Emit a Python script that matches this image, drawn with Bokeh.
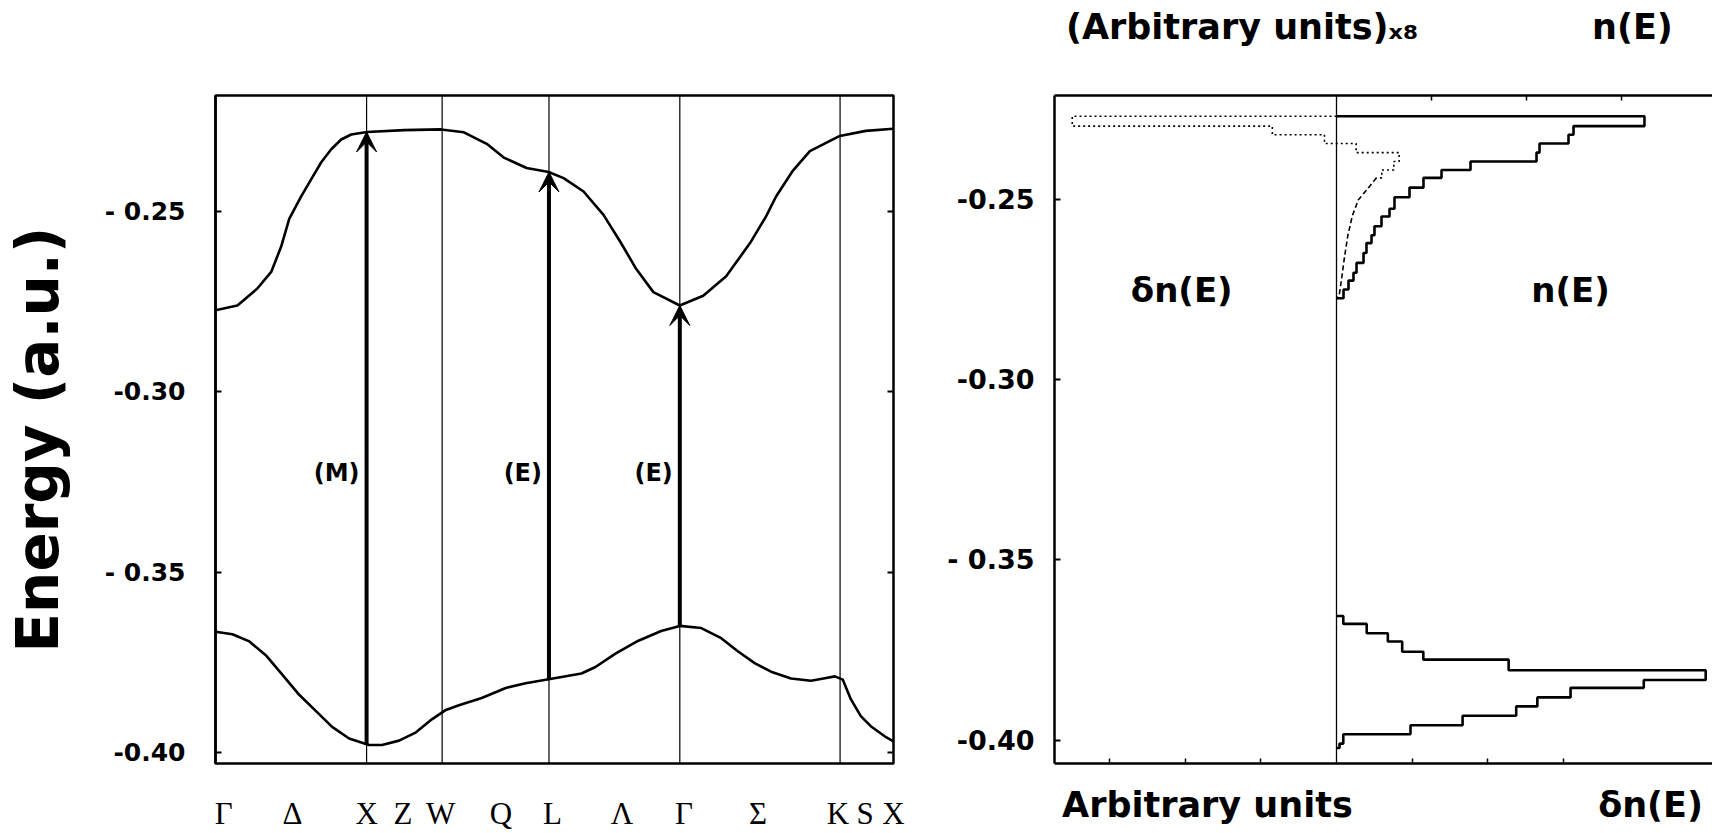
from bokeh.plotting import figure
from bokeh.models import (Range1d, LinearAxis, FixedTicker, Span, Arrow, VeeHead,
                          ColumnDataSource, LabelSet, Label)
from bokeh.layouts import row
from bokeh.core.properties import value
from bokeh.embed import file_html
from bokeh.resources import INLINE

# ---------------- band structure (left panel) ----------------
sym_k = [0.0, 1.0, 1.5, 2.2071, 3.0731, 4.1338, 4.4874]   # Γ X W L Γ K X

upper_k = [0.0, 0.145, 0.277, 0.370, 0.436, 0.488, 0.568, 0.634, 0.700, 0.766, 0.832, 0.898,
           1.003, 1.248, 1.492, 1.644, 1.795, 1.908, 2.059, 2.205, 2.304, 2.436, 2.568, 2.680,
           2.785, 2.898, 3.073, 3.228, 3.380, 3.538, 3.644, 3.710, 3.822, 3.934, 4.132, 4.304, 4.487]
upper_E = [-0.2774, -0.2761, -0.2714, -0.2667, -0.2596, -0.2521, -0.2458, -0.2411, -0.2364,
           -0.2328, -0.2301, -0.2287, -0.2280, -0.2275, -0.2273, -0.2281, -0.2313, -0.2351,
           -0.2380, -0.2391, -0.2408, -0.2445, -0.2510, -0.2585, -0.2660, -0.2724, -0.2761,
           -0.2734, -0.2680, -0.2588, -0.2514, -0.2459, -0.2387, -0.2333, -0.2291, -0.2277, -0.2271]

lower_k = [0.0, 0.112, 0.224, 0.337, 0.442, 0.554, 0.667, 0.772, 0.884, 1.016, 1.102, 1.215,
           1.327, 1.432, 1.525, 1.611, 1.762, 1.921, 2.053, 2.205, 2.422, 2.515, 2.647, 2.799,
           2.950, 3.073, 3.215, 3.347, 3.459, 3.571, 3.677, 3.809, 3.941, 4.033, 4.099, 4.152,
           4.205, 4.271, 4.337, 4.429, 4.487]
lower_E = [-0.3665, -0.3672, -0.3692, -0.3732, -0.3784, -0.3840, -0.3886, -0.3929, -0.3961,
           -0.3979, -0.3979, -0.3967, -0.3944, -0.3908, -0.3882, -0.3869, -0.3849, -0.3821,
           -0.3808, -0.3797, -0.3781, -0.3763, -0.3726, -0.3690, -0.3663, -0.3649, -0.3655,
           -0.3683, -0.3720, -0.3753, -0.3776, -0.3795, -0.3801, -0.3794, -0.3789, -0.3798,
           -0.3852, -0.3899, -0.3927, -0.3955, -0.3969]

trans_k = [1.0, 2.2071, 3.0731]
trans_from = [-0.3978, -0.3797, -0.3649]
trans_to = [-0.2280, -0.2391, -0.2761]
trans_text = ["(M)", "(E)", "(E)"]

path_labels = ["Γ", "Δ", "X", "Z", "W", "Q", "L", "Λ", "Γ", "Σ", "K", "S", "X"]
path_label_k = [0.055, 0.51, 1.0, 1.24, 1.49, 1.89, 2.23, 2.69, 3.10, 3.59, 4.12, 4.30, 4.487]

E_ticks = [-0.25, -0.30, -0.35, -0.40]
left_tick_text = ["- 0.25", "-0.30", "- 0.35", "-0.40"]
right_tick_text = ["-0.25", "-0.30", "- 0.35", "-0.40"]

# ---------------- density of states (right panel) ----------------
nE_up_edges = [-0.22680, -0.22953, -0.23191, -0.23437, -0.23688, -0.23934, -0.24171, -0.24390,
               -0.24660, -0.24928, -0.25246, -0.25464, -0.25735, -0.25983, -0.26201, -0.26478,
               -0.26751, -0.27025, -0.27243, -0.27489, -0.27734]
nE_up_vals = [4.079, 3.139, 3.073, 2.689, 2.649, 1.775, 1.391, 1.152, 0.967, 0.768, 0.702,
              0.596, 0.503, 0.464, 0.397, 0.358, 0.265, 0.225, 0.159, 0.093]

dn_edges = nE_up_edges[:8]
dn_vals = [-3.50, -0.85, -0.16, 0.26, 0.83, 0.76, 0.60]
dn_tail_x = [0.53, 0.40, 0.29, 0.21, 0.15, 0.105, 0.07, 0.04, 0.0]
dn_tail_E = [-0.24390, -0.24724, -0.25000, -0.25442, -0.25994, -0.26602, -0.27154, -0.27596, -0.27762]

nE_lo_edges = [-0.36555, -0.36776, -0.37036, -0.37265, -0.37549, -0.37768, -0.38063, -0.38334,
               -0.38552, -0.38817, -0.39066, -0.39325, -0.39590, -0.39839, -0.40099, -0.40220]
nE_lo_vals = [0.09, 0.40, 0.68, 0.87, 1.15, 2.28, 4.89, 4.07, 3.10, 2.66, 2.38, 1.67, 0.98,
              0.09, 0.04]

bottom_ticks = [-3, -2, -1, 1, 2, 3]
top_ticks = [1, 2, 3]
TOP_SCALE = 95.0 / 75.5

top_label_x = [-1.25, 3.92]
top_label_text = ["(Arbitrary units)ₓ₈", "n(E)"]
bottom_label_x = [-1.71, 4.16]
bottom_label_text = ["Arbitrary units", "δn(E)"]

Y1 = (-0.40304, -0.21790)    # left panel energy range
Y2 = (-0.40652, -0.22103)    # right panel energy range


def step_path(edges, vals, close=True):
    xs, ys = [0.0], [edges[0]]
    for i, v in enumerate(vals):
        xs += [v, v]
        ys += [edges[i], edges[i + 1]]
    if close:
        xs.append(0.0)
        ys.append(edges[-1])
    return xs, ys


def quiet_axis(ax):
    ax.minor_tick_in = 0
    ax.minor_tick_out = 0


# ================= left panel =================
p1 = figure(width=913, height=833, x_range=Range1d(0, sym_k[-1]), y_range=Range1d(*Y1),
            output_backend="svg", toolbar_location=None,
            min_border_left=213, min_border_right=20, min_border_top=95, min_border_bottom=69)
p1.background_fill_color = "white"
p1.border_fill_color = "white"
p1.outline_line_color = "black"
p1.outline_line_width = 2.5
p1.grid.visible = False

xa = p1.xaxis[0]
xa.ticker = FixedTicker(ticks=path_label_k)
xa.major_label_overrides = dict(zip(path_label_k, path_labels))
xa.axis_line_color = None
xa.major_tick_line_color = None
xa.major_tick_in = 0
xa.major_tick_out = 0
quiet_axis(xa)
xa.major_label_text_font = "Liberation Serif"
xa.major_label_text_font_size = "31px"
xa.major_label_text_color = "black"
xa.major_label_standoff = 32

ya = p1.yaxis[0]
ya.ticker = FixedTicker(ticks=E_ticks)
ya.major_label_overrides = dict(zip(E_ticks, left_tick_text))
ya.major_tick_in = 6
ya.major_tick_out = 0
quiet_axis(ya)
ya.axis_line_width = 2.5
ya.major_tick_line_width = 2
ya.major_label_text_font = "DejaVu Sans"
ya.major_label_text_font_style = "bold"
ya.major_label_text_font_size = "25px"
ya.major_label_text_color = "black"
ya.major_label_standoff = 30
ya.axis_label = "Energy  (a.u.)"
ya.axis_label_text_font = "DejaVu Sans"
ya.axis_label_text_font_style = "bold"
ya.axis_label_text_font_size = "58px"
ya.axis_label_text_color = "black"
ya.axis_label_standoff = 30

ra = LinearAxis(ticker=FixedTicker(ticks=E_ticks),
                major_label_overrides={t: "" for t in E_ticks},
                major_label_text_font_size="1px",
                major_tick_in=6, major_tick_out=0, minor_tick_in=0, minor_tick_out=0,
                major_tick_line_width=2, axis_line_color=None, major_label_standoff=0)
p1.add_layout(ra, "right")

for k in sym_k[1:-1]:
    p1.add_layout(Span(location=k, dimension="height", line_color="black", line_width=1.2))

p1.line(upper_k, upper_E, line_color="black", line_width=2.6)
p1.line(lower_k, lower_E, line_color="black", line_width=2.6)

arr_src = ColumnDataSource(dict(x=trans_k, y0=trans_from, y1=trans_to,
                                ly=[-0.3225] * len(trans_k), t=trans_text))
p1.add_layout(Arrow(end=VeeHead(size=20, fill_color="black", line_color="black", line_width=1),
                    x_start="x", y_start="y0", x_end="x", y_end="y1",
                    line_width=4, line_color="black", source=arr_src))
p1.add_layout(LabelSet(x="x", y="ly", text="t", source=arr_src, x_offset=-7,
                       text_align="right", text_baseline="middle",
                       text_font=value("DejaVu Sans"), text_font_style="bold",
                       text_font_size="24px", text_color="black"))

# ================= right panel =================
x0, x1 = -3.735, 4.980
p2 = figure(width=799, height=833, x_range=Range1d(x0, x1), y_range=Range1d(*Y2),
            output_backend="svg", toolbar_location=None,
            min_border_left=141, min_border_right=0, min_border_top=95, min_border_bottom=69)
p2.background_fill_color = "white"
p2.border_fill_color = "white"
p2.outline_line_color = None
p2.grid.visible = False

la = p2.yaxis[0]
la.ticker = FixedTicker(ticks=E_ticks)
la.major_label_overrides = dict(zip(E_ticks, right_tick_text))
la.major_tick_in = 6
la.major_tick_out = 0
quiet_axis(la)
la.axis_line_width = 2.5
la.major_tick_line_width = 2
la.major_label_text_font = "DejaVu Sans"
la.major_label_text_font_style = "bold"
la.major_label_text_font_size = "27px"
la.major_label_text_color = "black"
la.major_label_standoff = 20

ba = p2.xaxis[0]
ba.ticker = FixedTicker(ticks=bottom_ticks)
ba.major_label_overrides = {t: "" for t in bottom_ticks}
ba.major_label_text_font_size = "1px"
ba.major_tick_in = 5
ba.major_tick_out = 0
quiet_axis(ba)
ba.axis_line_width = 2.5
ba.major_tick_line_width = 1.5
ba.major_label_standoff = 0

bl = LinearAxis(ticker=FixedTicker(ticks=bottom_label_x),
                major_label_overrides=dict(zip(bottom_label_x, bottom_label_text)),
                axis_line_color=None, major_tick_line_color=None,
                major_tick_in=0, major_tick_out=0, minor_tick_in=0, minor_tick_out=0,
                major_label_text_font="DejaVu Sans", major_label_text_font_style="bold",
                major_label_text_font_size="35px", major_label_text_color="black",
                major_label_standoff=21)
p2.add_layout(bl, "below")

p2.extra_x_ranges = {"top": Range1d(x0 / TOP_SCALE, x1 / TOP_SCALE)}
ta = LinearAxis(x_range_name="top", ticker=FixedTicker(ticks=top_ticks),
                major_label_overrides={t: "" for t in top_ticks},
                major_label_text_font_size="1px",
                major_tick_in=5, major_tick_out=0, minor_tick_in=0, minor_tick_out=0,
                axis_line_width=2.5, major_tick_line_width=1.5, major_label_standoff=0)
p2.add_layout(ta, "above")

tl = LinearAxis(ticker=FixedTicker(ticks=top_label_x),
                major_label_overrides=dict(zip(top_label_x, top_label_text)),
                axis_line_color=None, major_tick_line_color=None,
                major_tick_in=0, major_tick_out=0, minor_tick_in=0, minor_tick_out=0,
                major_label_text_font="DejaVu Sans", major_label_text_font_style="bold",
                major_label_text_font_size="35px", major_label_text_color="black",
                major_label_standoff=49)
p2.add_layout(tl, "above")

p2.add_layout(Span(location=0, dimension="height", line_color="black", line_width=1.3))

xs, ys = step_path(nE_up_edges, nE_up_vals)
p2.line(xs, ys, line_color="black", line_width=2.6)
xs, ys = step_path(nE_lo_edges, nE_lo_vals)
p2.line(xs, ys, line_color="black", line_width=2.6)
xs, ys = step_path(dn_edges, dn_vals, close=False)
xs.append(dn_tail_x[0])
ys.append(dn_edges[-1])
p2.line(xs, ys, line_color="black", line_width=1.6, line_dash="2 3")
p2.line(dn_tail_x, dn_tail_E, line_color="black", line_width=1.6, line_dash="5 3")

for lx, lt in [(-2.05, "δn(E)"), (3.10, "n(E)")]:
    p2.add_layout(Label(x=lx, y=-0.2751, text=lt, text_align="center", text_baseline="middle",
                        text_font="DejaVu Sans", text_font_style="bold",
                        text_font_size="34px", text_color="black"))

layout = row(p1, p2)
open("out.html", "w").write(file_html(layout, INLINE))
